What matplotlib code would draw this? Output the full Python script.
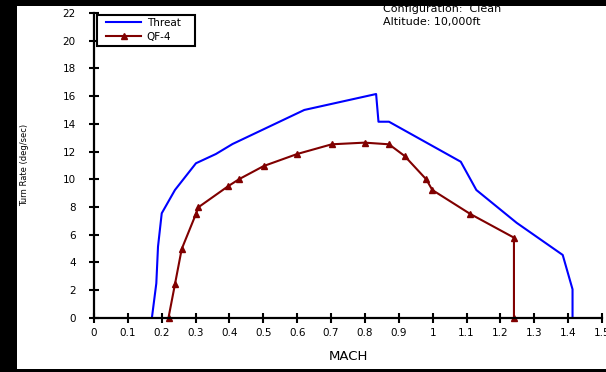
import matplotlib
matplotlib.use("Agg")
import matplotlib.pyplot as plt
from matplotlib.patches import Rectangle

plt.rcParams['font.family'] = ['DejaVu Sans']

threat_mach = [0.171, 0.184, 0.189, 0.200, 0.239, 0.301, 0.360, 0.409, 0.621, 0.833,
               0.840, 0.871, 1.083, 1.129, 1.248, 1.384, 1.413, 1.413]
threat_rate = [0.0, 2.48, 5.13, 7.54, 9.22, 11.15, 11.82, 12.54, 15.0, 16.15,
               14.15, 14.15, 11.26, 9.22, 6.85, 4.53, 2.05, 0.0]

qf4_mach = [0.220, 0.239, 0.259, 0.301, 0.308, 0.397, 0.429, 0.501, 0.600, 0.702,
            0.799, 0.871, 0.917, 0.981, 0.999, 1.111, 1.240, 1.240]
qf4_rate = [0.0, 2.41, 4.96, 7.49, 7.97, 9.51, 10.01, 10.95, 11.82, 12.52,
            12.64, 12.52, 11.68, 9.99, 9.22, 7.49, 5.78, 0.0]

x_ticks = [round(0.1 * i, 1) for i in range(16)]
y_ticks = list(range(0, 23, 2))

W, H = 606, 372
fig = plt.figure(figsize=(W / 100, H / 100), dpi=100, facecolor='black')
fig.patches.append(Rectangle((17 / W, 3 / H), 1 - 17 / W, (366 - 3) / H,
                             transform=fig.transFigure, facecolor='white',
                             edgecolor='none', zorder=-10))

ax_left, ax_right = 94 / W, 602 / W
ax_bottom, ax_top = (H - 317.7) / H, (H - 13) / H
ax = fig.add_axes([ax_left, ax_bottom, ax_right - ax_left, ax_top - ax_bottom])
ax.set_facecolor('none')

ax.plot(threat_mach, threat_rate, color='#0000FF', lw=1.5, label='Threat', clip_on=False)
ax.plot(qf4_mach, qf4_rate, color='#800000', lw=1.5, marker='^', ms=4.5,
        label='QF-4', clip_on=False)

ax.set_xlim(0, 1.5)
ax.set_ylim(0, 22)
ax.set_xticks(x_ticks)
ax.set_xticklabels([f'{v:g}' for v in x_ticks])
ax.set_yticks(y_ticks)
ax.set_yticklabels([str(v) for v in y_ticks])

for s in ['top', 'right']:
    ax.spines[s].set_visible(False)
for s in ['left', 'bottom']:
    ax.spines[s].set_linewidth(1.6)
    ax.spines[s].set_color('black')

ax.tick_params(axis='both', direction='inout', length=7.5, width=1.5, colors='black',
               labelsize=7.5)
ax.tick_params(axis='y', pad=9.5)
ax.tick_params(axis='x', pad=4)

ax.set_xlabel('MACH', fontsize=9.5, labelpad=8)
ax.set_ylabel('Turn Rate (deg/sec)', fontsize=6)
ax.yaxis.set_label_coords(-0.128, 0.5)

# legend frame (wider horizontal padding than matplotlib's uniform borderpad)
ax.add_patch(Rectangle((97 / W, 1 - 46 / H), 98 / W, 31 / H, transform=fig.transFigure,
                       facecolor='white', edgecolor='black', lw=1.5, zorder=4,
                       clip_on=False))
leg = ax.legend(loc='upper left', bbox_to_anchor=(106 / W, 1 - 18 / H),
                bbox_transform=fig.transFigure, fontsize=7.5,
                frameon=False, numpoints=1, handlelength=3.4,
                handletextpad=0.5, borderpad=0.0, labelspacing=0.38,
                borderaxespad=0.0)
leg.set_zorder(5)

fig.text(383 / W, 1 - 9 / H, 'Configuration:  Clean', fontsize=8, ha='left', va='center')
fig.text(383 / W, 1 - 22 / H, 'Altitude: 10,000ft', fontsize=8, ha='left', va='center')

fig.savefig('out.png', dpi=100, facecolor='black')
